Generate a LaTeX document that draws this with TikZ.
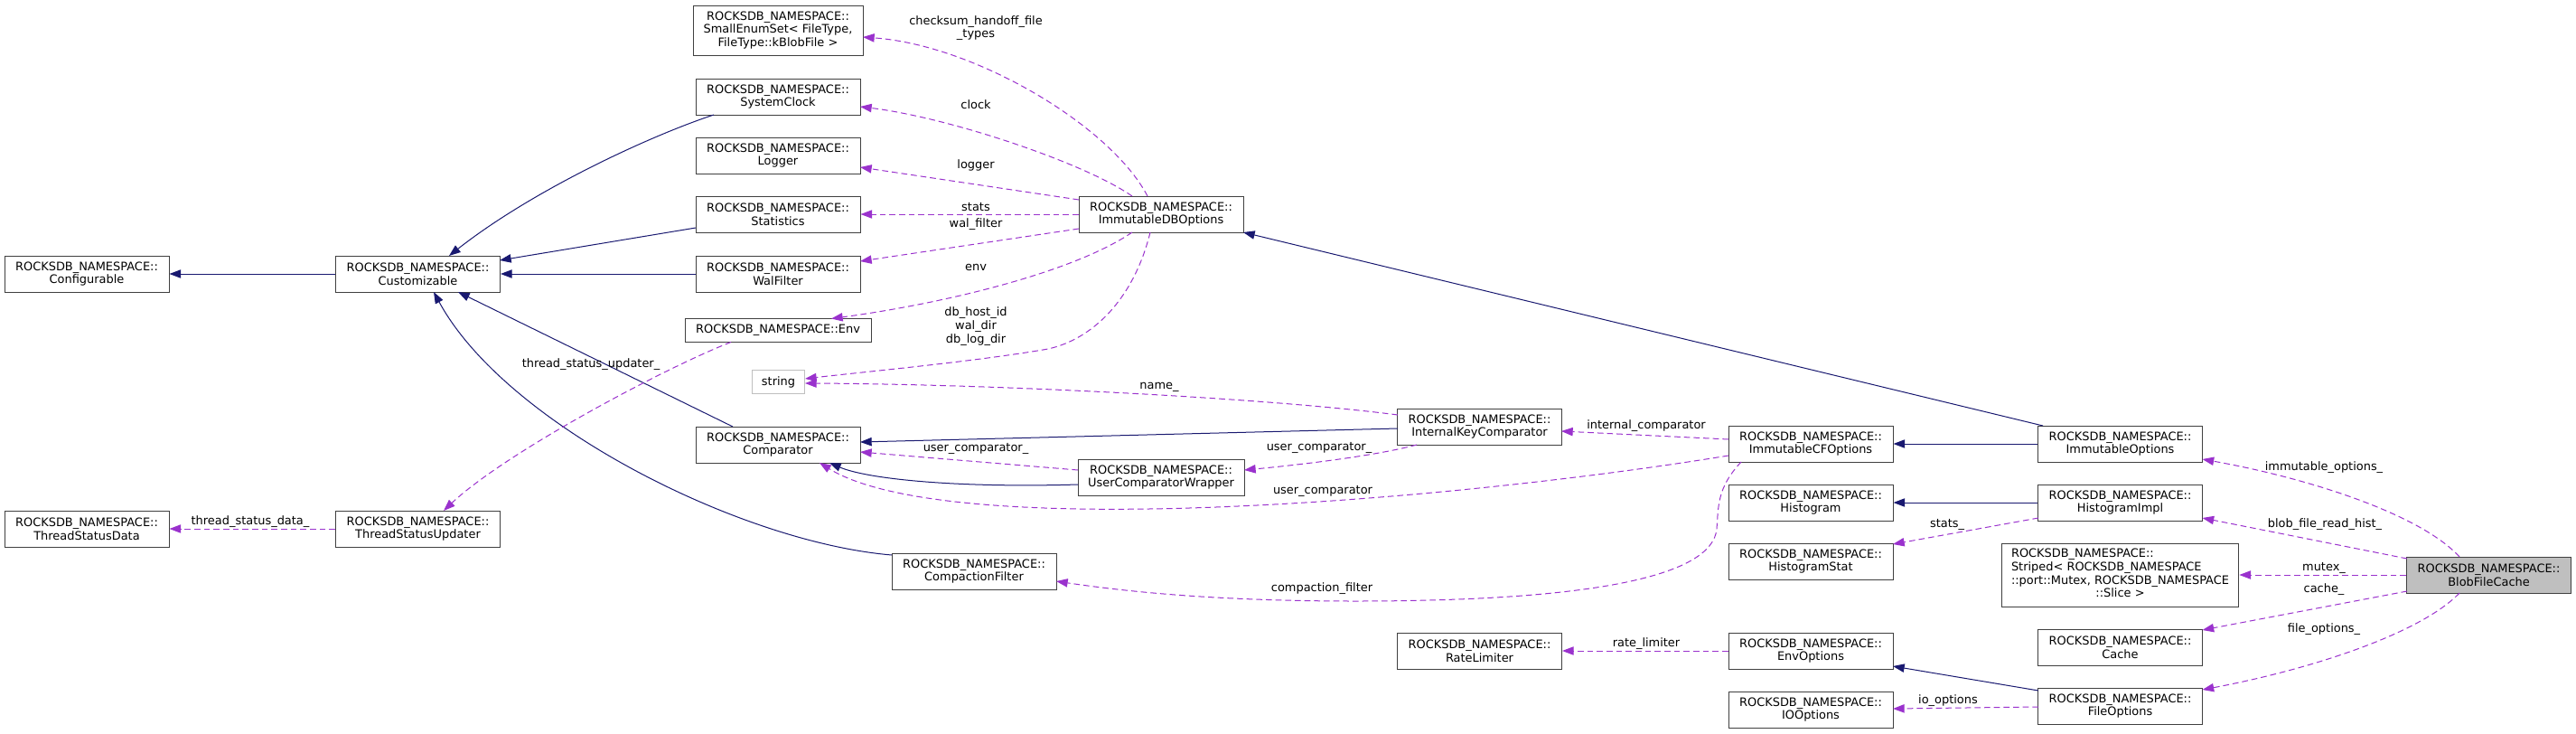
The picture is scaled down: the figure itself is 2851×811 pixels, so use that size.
\documentclass[tikz,border=0pt]{standalone}
\usepackage{fontspec}
\setmainfont{DejaVu Sans}
\usetikzlibrary{arrows.meta, calc}
\definecolor{azulmedianoche}{HTML}{191970}
\definecolor{moradoorquidea}{HTML}{9A32CD}
\definecolor{grisclaro}{HTML}{BFBFBF}
\colorlet{colHerencia}{azulmedianoche}
\colorlet{colUso}{moradoorquidea}
\colorlet{colBorde}{black!75}
\tikzset{
  cajaClase/.style={
    draw=colBorde, line width=0.75pt, rounded corners=0pt,
    minimum width=136.5pt, minimum height=30pt,
    inner sep=1pt, align=center, font=\fontsize{9.7}{11}\selectfont,
    fill=white
  },
  cajaFoco/.style={cajaClase, fill=grisclaro},
  cajaExterna/.style={cajaClase, draw=grisclaro, minimum width=44pt, minimum height=19.5pt},
  flechaHerencia/.style={-{Triangle[length=9.5pt, width=7pt]}, line width=0.75pt, colHerencia},
  flechaUso/.style={-{Triangle[length=9.5pt, width=7pt]}, line width=0.75pt, colUso,
    dash pattern=on 5pt off 3pt},
  etiquetaUso/.style={font=\fontsize{9.7}{11}\selectfont, align=center, inner sep=0pt},
}

\begin{document}
\begin{tikzpicture}[x=0.75pt, y=-0.75pt]
    \useasboundingbox (0,0) rectangle (2851,811);
    \node[cajaClase] (conf) at (96,303) {ROCKSDB\_NAMESPACE::\\Configurable};
    \node[cajaClase] (custom) at (462.5,303) {ROCKSDB\_NAMESPACE::\\Customizable};
    \node[cajaClase] (tsdata) at (96,585) {ROCKSDB\_NAMESPACE::\\ThreadStatusData};
    \node[cajaClase] (tsupd) at (462.5,585) {ROCKSDB\_NAMESPACE::\\ThreadStatusUpdater};
    \node[cajaClase, minimum width=141pt, minimum height=41.25pt] (enumset) at (861,33.5)
      {ROCKSDB\_NAMESPACE::\\SmallEnumSet< FileType,\\FileType::kBlobFile >};
    \node[cajaClase] (sysclock) at (861,107) {ROCKSDB\_NAMESPACE::\\SystemClock};
    \node[cajaClase] (logger) at (861,172) {ROCKSDB\_NAMESPACE::\\Logger};
    \node[cajaClase] (statistics) at (861,237) {ROCKSDB\_NAMESPACE::\\Statistics};
    \node[cajaClase] (walfilter) at (861,303) {ROCKSDB\_NAMESPACE::\\WalFilter};
    \node[cajaClase, minimum width=154.5pt, minimum height=19.5pt] (env) at (861,365.5)
      {ROCKSDB\_NAMESPACE::Env};
    \node[cajaExterna] (cadena) at (861.5,422.5) {string};
    \node[cajaClase] (comparador) at (861,492) {ROCKSDB\_NAMESPACE::\\Comparator};
    \node[cajaClase] (compfilter) at (1078,632) {ROCKSDB\_NAMESPACE::\\CompactionFilter};
    \node[cajaClase] (idbopt) at (1285,237) {ROCKSDB\_NAMESPACE::\\ImmutableDBOptions};
    \node[cajaClase, minimum width=138pt] (ucwrapper) at (1285,528)
      {ROCKSDB\_NAMESPACE::\\UserComparatorWrapper};
    \node[cajaClase] (ikcomp) at (1637.5,472) {ROCKSDB\_NAMESPACE::\\InternalKeyComparator};
    \node[cajaClase] (ratelim) at (1637.5,720) {ROCKSDB\_NAMESPACE::\\RateLimiter};
    \node[cajaClase] (icfopt) at (2004,491) {ROCKSDB\_NAMESPACE::\\ImmutableCFOptions};
    \node[cajaClase] (histo) at (2004,556) {ROCKSDB\_NAMESPACE::\\Histogram};
    \node[cajaClase] (histostat) at (2004,621) {ROCKSDB\_NAMESPACE::\\HistogramStat};
    \node[cajaClase] (envopt) at (2004,720) {ROCKSDB\_NAMESPACE::\\EnvOptions};
    \node[cajaClase] (ioopt) at (2004,785) {ROCKSDB\_NAMESPACE::\\IOOptions};
    \node[cajaClase] (immopt) at (2346.5,491) {ROCKSDB\_NAMESPACE::\\ImmutableOptions};
    \node[cajaClase] (histoimpl) at (2346.5,556) {ROCKSDB\_NAMESPACE::\\HistogramImpl};
    \node[cajaClase, minimum width=197pt, minimum height=52.5pt] (striped) at (2346.5,636)
      {\begin{tabular}{@{}l@{}}ROCKSDB\_NAMESPACE::\\Striped< ROCKSDB\_NAMESPACE\\
       ::port::Mutex, ROCKSDB\_NAMESPACE\\\multicolumn{1}{@{}c@{}}{::Slice >}\end{tabular}};
    \node[cajaClase] (cache) at (2346.5,716) {ROCKSDB\_NAMESPACE::\\Cache};
    \node[cajaClase] (fileopt) at (2346.5,781) {ROCKSDB\_NAMESPACE::\\FileOptions};
    \node[cajaFoco] (blobcache) at (2754.5,636) {ROCKSDB\_NAMESPACE::\\BlobFileCache};

    \draw[flechaHerencia] (custom) -- (conf);
    \draw[flechaHerencia] ($(sysclock)+(-71,20)$) .. controls (720,150) and (590,210) .. ($(custom)+(34.5,-20)$);
    \draw[flechaHerencia] ($(statistics)+(-91,15)$) -- ($(custom)+(90.5,-15)$);
    \draw[flechaHerencia] (walfilter) -- (custom);
    \draw[flechaHerencia] ($(comparador)+(-50,-20)$) -- ($(custom)+(44.5,20)$);
    \draw[flechaHerencia] ($(compfilter)+(-91,-18)$) .. controls (820,600) and (560,470) .. ($(custom)+(17.5,20)$);
    \draw[flechaHerencia] ($(ikcomp)+(-90.5,2)$) -- ($(comparador)+(91,-3)$);
    \draw[flechaHerencia] ($(ucwrapper)+(-92,8)$) .. controls (1060,540) and (960,530) .. ($(comparador)+(57,20)$);
    \draw[flechaHerencia] ($(immopt)+(-85.5,-20)$) -- ($(idbopt)+(91,20)$);
    \draw[flechaHerencia] (immopt) -- (icfopt);
    \draw[flechaHerencia] (histoimpl) -- (histo);
    \draw[flechaHerencia] ($(fileopt)+(-90.5,-17)$) -- ($(envopt)+(91,17)$);

    \draw[flechaUso] ($(idbopt)+(-15,-20)$) .. controls (1230,140) and (1080,50) .. ($(enumset)+(94,7.5)$);
    \draw[flechaUso] ($(idbopt)+(-32,-20)$) .. controls (1200,180) and (1050,130) .. ($(sysclock)+(91,11)$);
    \draw[flechaUso] ($(idbopt)+(-91,-16)$) -- ($(logger)+(91,13)$);
    \draw[flechaUso] (idbopt) -- (statistics);
    \draw[flechaUso] ($(idbopt)+(-91,16)$) -- ($(walfilter)+(91,-14)$);
    \draw[flechaUso] ($(idbopt)+(-32,20)$) .. controls (1190,300) and (1050,335) .. ($(env)+(59,-13)$);
    \draw[flechaUso] ($(idbopt)+(-12,20)$) .. controls (1255,330) and (1210,375) .. (1160,386)
      .. controls (1080,400) and (950,412) .. ($(cadena)+(29.5,-3.5)$);
    \draw[flechaUso] ($(ikcomp)+(-90.5,-13)$) .. controls (1400,440) and (1100,425) .. ($(cadena)+(29.5,1.5)$);
    \draw[flechaUso] ($(env)+(-52,13)$) .. controls (740,405) and (560,500) .. ($(tsupd)+(28.5,-20)$);
    \draw[flechaUso] (tsupd) -- (tsdata);
    \draw[flechaUso] ($(ucwrapper)+(-92,-8)$) -- ($(comparador)+(91,8)$);
    \draw[flechaUso] ($(ikcomp)+(-69.5,20)$) .. controls (1520,505) and (1430,515) .. ($(ucwrapper)+(92,-8)$);
    \draw[flechaUso] ($(icfopt)+(-91,13)$) .. controls (1600,555) and (1050,600) .. ($(comparador)+(46,20)$);
    \draw[flechaUso] ($(icfopt)+(-91,-5)$) -- ($(ikcomp)+(90.5,5)$);
    \draw[flechaUso] ($(icfopt)+(-77,20)$) .. controls (1900,540) and (1902,560) .. (1900,585)
      .. controls (1895,640) and (1750,665) .. (1500,665)
      .. controls (1350,665) and (1250,655) .. ($(compfilter)+(91,11)$);
    \draw[flechaUso] (envopt) -- (ratelim);
    \draw[flechaUso] ($(histoimpl)+(-90.5,17)$) -- ($(histostat)+(91,-19)$);
    \draw[flechaUso] ($(fileopt)+(-90.5,1)$) -- ($(ioopt)+(91,-1)$);
    \draw[flechaUso] ($(blobcache)+(-32.5,-20)$) .. controls (2680,570) and (2560,530) .. ($(immopt)+(91,17)$);
    \draw[flechaUso] ($(blobcache)+(-90.5,-18)$) -- ($(histoimpl)+(91,17)$);
    \draw[flechaUso] (blobcache) -- (striped);
    \draw[flechaUso] ($(blobcache)+(-90.5,18)$) -- ($(cache)+(91,-19)$);
    \draw[flechaUso] ($(blobcache)+(-32.5,20)$) .. controls (2680,700) and (2560,740) .. ($(fileopt)+(91,-18)$);

    \node[etiquetaUso] (lblChecksum) at (1080,31) {checksum\_handoff\_file\\\_types};
    \node[etiquetaUso] (lblClock) at (1080,116) {clock};
    \node[etiquetaUso] (lblLogger) at (1080,183) {logger};
    \node[etiquetaUso] (lblStats) at (1080,229) {stats};
    \node[etiquetaUso] (lblWal) at (1080,248) {wal\_filter};
    \node[etiquetaUso] (lblEnv) at (1080,296) {env};
    \node[etiquetaUso] (lblDirs) at (1080,361) {db\_host\_id\\wal\_dir\\db\_log\_dir};
    \node[etiquetaUso] (lblName) at (1283,428) {name\_};
    \node[etiquetaUso] (lblTsUpd) at (654,403) {thread\_status\_updater\_};
    \node[etiquetaUso] (lblTsData) at (277,577) {thread\_status\_data\_};
    \node[etiquetaUso] (lblUserCmpA) at (1080,496) {user\_comparator\_};
    \node[etiquetaUso] (lblUserCmpB) at (1460,495) {user\_comparator\_};
    \node[etiquetaUso] (lblUserCmpC) at (1464,543) {user\_comparator};
    \node[etiquetaUso] (lblInternal) at (1822,471) {internal\_comparator};
    \node[etiquetaUso] (lblCompFilter) at (1463,651) {compaction\_filter};
    \node[etiquetaUso] (lblRate) at (1822,712) {rate\_limiter};
    \node[etiquetaUso] (lblStatsB) at (2155,580) {stats\_};
    \node[etiquetaUso] (lblIo) at (2156,775) {io\_options};
    \node[etiquetaUso] (lblImmOpt) at (2572,517) {immutable\_options\_};
    \node[etiquetaUso] (lblHist) at (2573,580) {blob\_file\_read\_hist\_};
    \node[etiquetaUso] (lblMutex) at (2572,628) {mutex\_};
    \node[etiquetaUso] (lblCache) at (2572,652) {cache\_};
    \node[etiquetaUso] (lblFileOpt) at (2572,696) {file\_options\_};
  \end{tikzpicture}
\end{document}
